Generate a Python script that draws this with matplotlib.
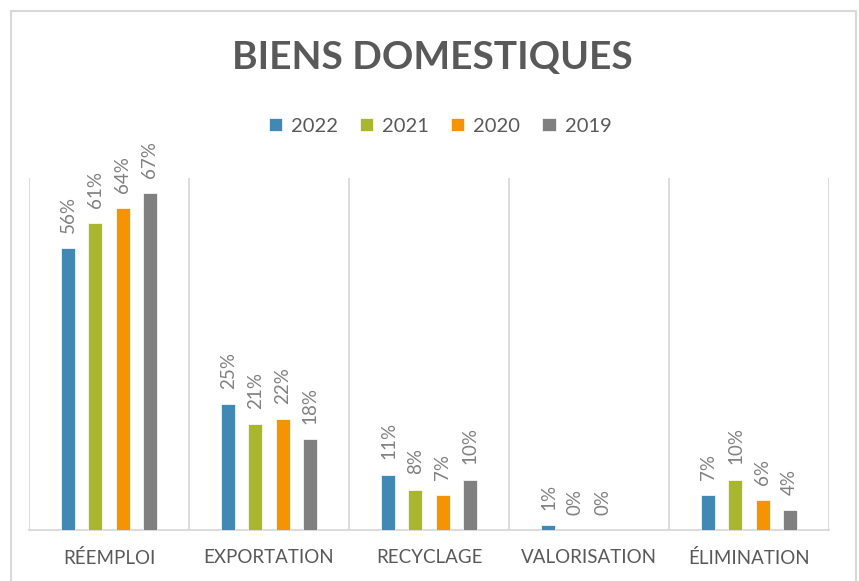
import matplotlib.pyplot as plt
import numpy as np
from matplotlib.patches import Rectangle

plt.rcParams["font.family"] = ["Lato", "DejaVu Sans"]

# data (percent)
categories = ["RÉEMPLOI", "EXPORTATION", "RECYCLAGE", "VALORISATION", "ÉLIMINATION"]
years = ["2022", "2021", "2020", "2019"]
v2022 = [56, 25, 11, 1, 7]
v2021 = [61, 21, 8, 0, 10]
v2020 = [64, 22, 7, 0, 6]
v2019 = [67, 18, 10, None, 4]   # no value for valorisation in 2019

colors = ["#4189b5", "#a8b82a", "#f59300", "#808080"]
TXT = "#595959"
GRID = "#d9d9d9"

series = [v2022, v2021, v2020, v2019]

fig = plt.figure(figsize=(8.59, 5.81), dpi=100)
ax = fig.add_axes([29 / 859, 51 / 581, 800 / 859, 352 / 581])

x = np.arange(len(categories))
width = 0.0875
step = 0.169
offsets = (np.arange(len(years)) - 1.5) * step

for vals, off, col, yr in zip(series, offsets, colors, years):
    h = np.array([np.nan if v is None else v for v in vals], dtype=float)
    ax.bar(x + off, h, width, color=col, edgecolor="white", linewidth=0.5,
           label=yr, zorder=3)
    for xi, v in zip(x + off, vals):
        if v is None:
            continue
        ax.annotate(f"{v}%", (xi, v), xytext=(0, 11), textcoords="offset points",
                    rotation=90, ha="center", va="bottom", fontsize=13.5,
                    color="#808080")

ax.set_xlim(-0.5, len(categories) - 0.5)
ax.set_ylim(0, 70)
ax.set_yticks([])
ax.set_xticks(x)
ax.set_xticklabels(categories, fontsize=13.5, color=TXT)
ax.tick_params(axis="x", length=0, pad=14)
for s in ["left", "right", "top"]:
    ax.spines[s].set_visible(False)
ax.spines["bottom"].set_color(GRID)
ax.spines["bottom"].set_linewidth(1.3)
for b in np.arange(-0.5, len(categories), 1.0):
    ax.axvline(b, color=GRID, lw=1.3, zorder=1)

fig.text(432 / 859, 1 - 58 / 581, "BIENS DOMESTIQUES", ha="center", va="center",
         fontsize=28, fontweight="bold", color=TXT)

fig.legend(loc="center", bbox_to_anchor=(440 / 859, 1 - 126 / 581), ncol=4,
           frameon=False, fontsize=14.5, labelcolor=TXT, handlelength=0.65,
           handleheight=0.65, handletextpad=0.45, columnspacing=1.1)

fig.patches.append(Rectangle((11 / 859, -0.05), 845 / 859, 1.05 - 11 / 581,
                             transform=fig.transFigure, fill=False,
                             edgecolor=GRID, lw=1.5))

fig.savefig("out.png", dpi=100)
